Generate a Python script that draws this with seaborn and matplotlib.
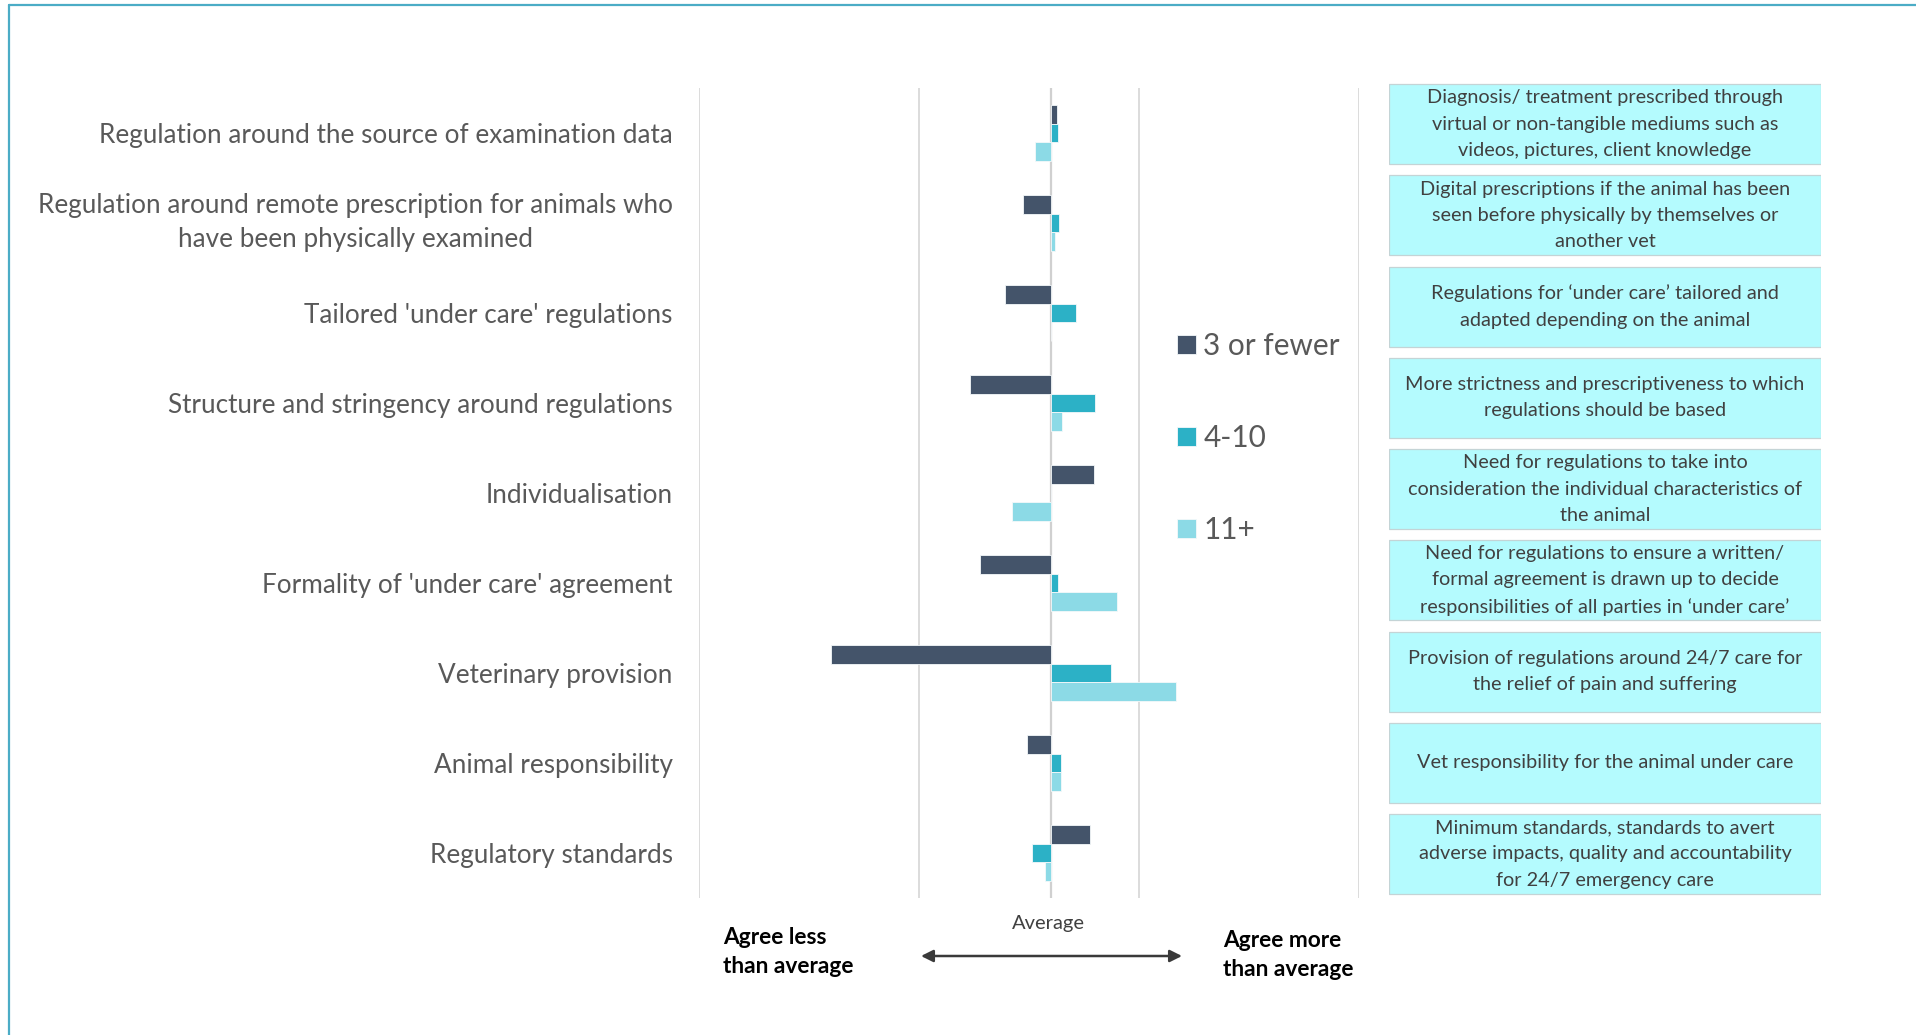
import matplotlib
matplotlib.use("Agg")
import matplotlib.pyplot as plt
from matplotlib.patches import Rectangle, FancyArrowPatch
from matplotlib.lines import Line2D
import pandas as pd
import seaborn as sns

# ---- data -------------------------------------------------------------
categories = [
    "Regulation around the source of examination data",
    "Regulation around remote prescription for animals who\nhave been physically examined",
    "Tailored 'under care' regulations",
    "Structure and stringency around regulations",
    "Individualisation",
    "Formality of 'under care' agreement",
    "Veterinary provision",
    "Animal responsibility",
    "Regulatory standards",
]
groups = ["3 or fewer", "4-10", "11+"]

# deviation from the overall average, per years-in-practice group
few_vals = [0.013, -0.063, -0.105, -0.185, 0.098, -0.162, -0.500, -0.054, 0.088]
mid_vals = [0.016, 0.018, 0.057, 0.101, 0.000, 0.016, 0.137, 0.022, -0.043]
many_vals = [-0.037, 0.009, 0.000, 0.026, -0.088, 0.151, 0.283, 0.022, -0.014]

descriptions = [
    "Diagnosis/ treatment prescribed through\nvirtual or non-tangible mediums such as\nvideos, pictures, client knowledge",
    "Digital prescriptions if the animal has been\nseen before physically by themselves or\nanother vet",
    "Regulations for \u2018under care\u2019 tailored and\nadapted depending on the animal",
    "More strictness and prescriptiveness to which\nregulations should be based",
    "Need for regulations to take into\nconsideration the individual characteristics of\nthe animal",
    "Need for regulations to ensure a written/\nformal agreement is drawn up to decide\nresponsibilities of all parties in \u2018under care\u2019",
    "Provision of regulations around 24/7 care for\nthe relief of pain and suffering",
    "Vet responsibility for the animal under care",
    "Minimum standards, standards to avert\nadverse impacts, quality and accountability\nfor 24/7 emergency care",
]

colors = ["#44546a", "#2cb1c6", "#8cdae6"]

df = pd.DataFrame({
    "category": categories * 3,
    "group": [g for g in groups for _ in categories],
    "value": few_vals + mid_vals + many_vals,
})

# ---- style ------------------------------------------------------------
sns.set_theme(style="white")
plt.rcParams["font.family"] = ["Lato", "DejaVu Sans"]

W, H = 1916, 1035
fig = plt.figure(figsize=(W / 100, H / 100), dpi=100)
fig.patch.set_facecolor("white")


def fx(px):
    return px / W


def fy(py):
    return 1 - py / H


# ---- main bar chart ---------------------------------------------------
ax = fig.add_axes([fx(699), fy(898), (1359 - 699) / W, (898 - 88) / H])
sns.barplot(
    data=df, y="category", x="value", hue="group",
    order=categories, hue_order=groups, palette=colors, saturation=1,
    orient="h", width=0.622, errorbar=None, ax=ax,
    edgecolor="#f4f8fa", linewidth=0.6,
)
ax.set_xlim(-0.8, 0.7)
ax.set_xticks([-0.8, -0.3, 0.2, 0.7])
ax.set_xticklabels([])
ax.set_xlabel("")
ax.set_ylabel("")
ax.grid(axis="x", color="#d9d9d9", linewidth=1.3)
ax.grid(axis="y", visible=False)
ax.set_axisbelow(True)
ax.axvline(0, color="#d0d0d0", linewidth=1.6, zorder=0.5)
for s in ax.spines.values():
    s.set_visible(False)
ax.tick_params(axis="y", length=0, pad=19, labelsize=18.8, labelcolor="#595959")
ax.tick_params(axis="x", length=0)
for lab in ax.get_yticklabels():
    lab.set_multialignment("center")
    lab.set_linespacing(1.45)
    if "\n" in lab.get_text():
        lab.set_verticalalignment("center")

handles, labels = ax.get_legend_handles_labels()
if ax.legend_ is not None:
    ax.legend_.remove()
fig.legend(
    handles, labels, loc="center left",
    bbox_to_anchor=(fx(1177), fy(438)), frameon=False,
    fontsize=21.4, handlelength=0.64, handleheight=0.64,
    handletextpad=0.24, labelspacing=2.15, borderpad=0, borderaxespad=0,
    labelcolor="#595959",
)

# ---- description boxes ------------------------------------------------
axb = fig.add_axes([fx(1389), fy(899.6), (1821 - 1389) / W, 821 / H])
axb.set_xlim(0, 1)
axb.set_ylim(8.5, -0.5)
axb.axis("off")
for i, txt in enumerate(descriptions):
    axb.add_patch(Rectangle((0, i - 0.438), 1, 0.877, facecolor="#b4fbfe",
                            edgecolor="#c4d4d6", linewidth=0.9))
    axb.text(0.5, i, txt, ha="center", va="center", fontsize=14.3,
             color="#404040", linespacing=1.66)

# ---- bottom annotations -----------------------------------------------
fig.text(fx(1048), fy(923), "Average", ha="center", va="center",
         fontsize=14.5, color="#404040")
fig.text(fx(723), fy(952), "Agree less\nthan average", ha="left", va="center",
         fontsize=16.4, fontweight="bold", color="black", linespacing=1.45)
fig.text(fx(1223), fy(955), "Agree more\nthan average", ha="left", va="center",
         fontsize=16.4, fontweight="bold", color="black", linespacing=1.45)
fig.add_artist(FancyArrowPatch(
    (fx(921), fy(956)), (fx(1182), fy(956)), transform=fig.transFigure,
    arrowstyle="<|-|>", mutation_scale=18, color="#3a3a3a", linewidth=1.8,
    shrinkA=0, shrinkB=0))

# ---- outer frame ------------------------------------------------------
frame_col = "#4bacc6"
fig.add_artist(Line2D([fx(9), 1], [fy(5), fy(5)], transform=fig.transFigure,
                      color=frame_col, linewidth=1.6))
fig.add_artist(Line2D([fx(9), fx(9)], [fy(5), 0], transform=fig.transFigure,
                      color=frame_col, linewidth=1.6))

fig.savefig("out.png", dpi=100, facecolor="white")
